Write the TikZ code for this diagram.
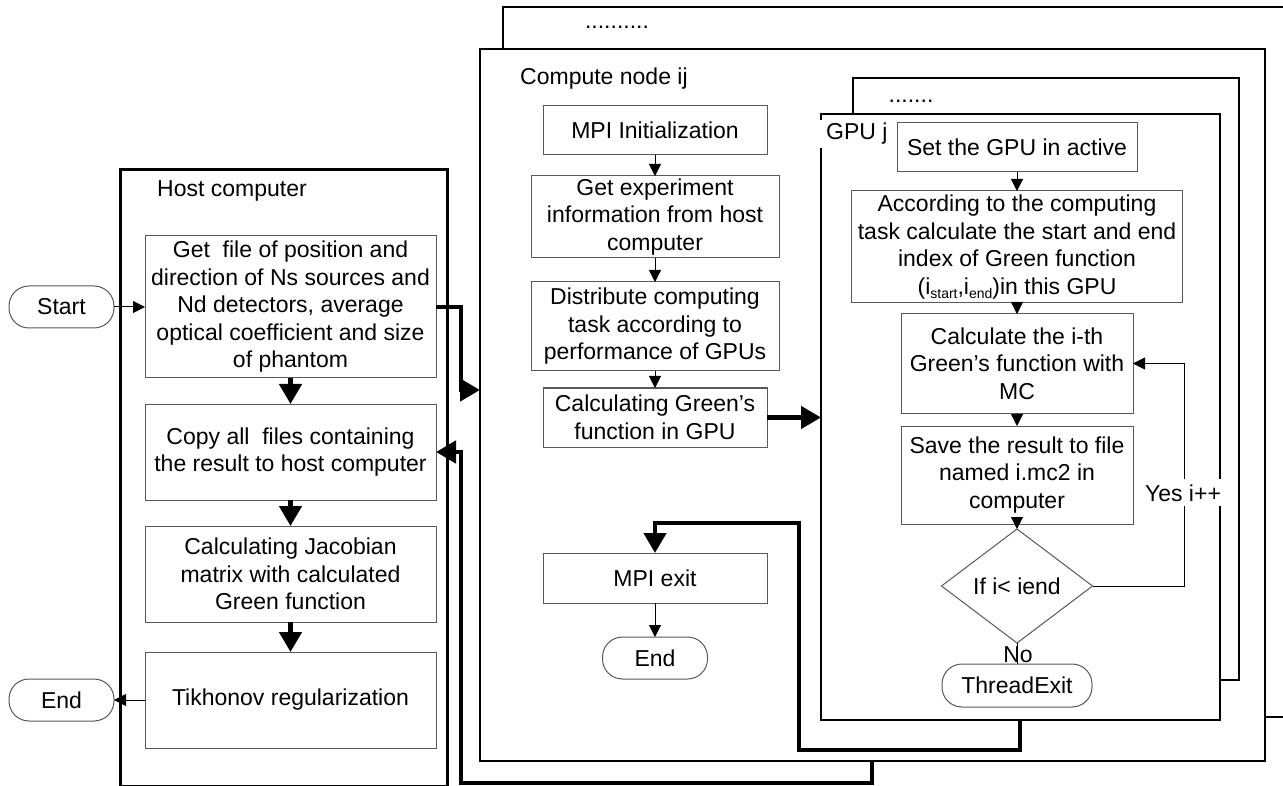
\documentclass[tikz,border=0pt]{standalone}
\usepackage{fontspec}
\setmainfont{Liberation Sans}
\usetikzlibrary{arrows.meta,shapes.geometric,calc}
\newcommand\fs{\fontsize{23}{27.5}\selectfont}
\newcommand\mysub[1]{\raisebox{-4pt}{\fontsize{14}{14}\selectfont #1}}
\begin{document}
\begin{tikzpicture}[x=1pt,y=-1pt,
  box/.style={draw=black!65, line width=1pt, align=center, inner sep=0pt, outer sep=0pt, font=\fs, fill=white},
  term/.style={box, rounded corners=20pt},
  frame/.style={draw=black, line width=2.5pt, fill=white, inner sep=0pt, outer sep=0pt},
  lbl/.style={font=\fs, inner sep=0pt},
  thinarr/.style={draw=black, line width=1pt, -{Triangle[length=12pt,width=12pt]}},
  bigarr/.style={draw=black, line width=4.5pt, -{Triangle[length=20pt,width=22pt]}, line join=miter},
]
\useasboundingbox (0,0) rectangle (1283,786);
\clip (0,0) rectangle (1283,786);
\fill[white] (0,0) rectangle (1283,786);

% frames
\node[frame, minimum width=785pt, minimum height=710pt] (cb) at (895.5,362) {};
\node[frame, minimum width=785pt, minimum height=712pt] (cn) at (872.5,405) {};
\node[frame, minimum width=386pt, minimum height=602pt] (gb) at (1046,379) {};
\node[frame, minimum width=399pt, minimum height=606pt] (gf) at (1020.5,417) {};
\node[frame, line width=3pt, minimum width=327pt, minimum height=616pt] (hf) at (283.5,478) {};

% labels
\node[lbl, anchor=base west] (hl) at (157,197) {Host computer};
\node[lbl, anchor=base west] (cl) at (520,85) {Compute node ij};
\node[lbl, anchor=base] (cd) at (617,29) {..........};
\node[lbl, anchor=base] (gd) at (911,103) {.......};
\node[lbl, anchor=base west, fill=white, inner xsep=7pt, inner ysep=3pt] (gl) at (819,140) {GPU j};

% host column
\node[term, minimum width=105pt, minimum height=42pt] (st) at (61.5,307) {Start};
\node[term, minimum width=105pt, minimum height=42pt] (he) at (61.5,700) {End};
\node[box, minimum width=291pt, minimum height=142pt] (b1) at (290.5,307) {Get~ file of position and\\direction of Ns sources and\\Nd detectors, average\\optical coefficient and size\\of phantom};
\node[box, minimum width=291pt, minimum height=96pt] (b2) at (290.5,452) {Copy all~ files containing\\the result to host computer};
\node[box, minimum width=291pt, minimum height=96pt] (b3) at (290.5,574) {Calculating Jacobian\\matrix with calculated\\Green function};
\node[box, minimum width=291pt, minimum height=96pt] (b4) at (290.5,700) {Tikhonov regularization};

% compute column
\node[box, minimum width=224pt, minimum height=49pt] (mi) at (655,130.5) {MPI Initialization};
\node[box, minimum width=248pt, minimum height=82pt] (ge) at (655,217) {Get experiment\\information from host\\computer};
\node[box, minimum width=248pt, minimum height=89pt] (dc) at (655,326.5) {Distribute computing\\task according to\\performance of GPUs};
\node[box, minimum width=224pt, minimum height=59pt] (cg) at (655,417.5) {Calculating Green’s\\function in GPU};
\node[box, minimum width=224pt, minimum height=50pt] (mx) at (655,578) {MPI exit};
\node[term, minimum width=105pt, minimum height=42pt] (ce) at (655,658) {End};

% GPU column
\node[box, minimum width=240pt, minimum height=49pt] (sa) at (1017,147.5) {Set the GPU in active};
\node[box, minimum width=331pt, minimum height=112pt] (ac) at (1017,247) {According to the computing\\task calculate the start and end\\index of Green function\\(i\mysub{start},i\mysub{end})in this GPU};
\node[box, minimum width=232pt, minimum height=99pt] (ci) at (1017,363.5) {Calculate the i-th\\Green’s function with\\MC};
\node[box, minimum width=232pt, minimum height=98pt] (sv) at (1017,475) {Save the result to file\\named i.mc2 in\\computer};
\node[box, diamond, aspect=1.32, minimum width=151pt, minimum height=114pt] (dm) at (1017,586) {If i< iend};
\node[term, minimum width=150pt, minimum height=43pt] (te) at (1017,685.5) {ThreadExit};
\node[lbl, anchor=base] (nl) at (1018,662) {No};

% bend points
\coordinate (p1) at (461,307);
\coordinate (p2) at (461,390);
\coordinate (r1) at (872,783);
\coordinate (r2) at (461,452);
\coordinate (g1) at (1020,750);
\coordinate (g2) at (799,523);
\coordinate (l1) at (1184,586);

% host connectors
\draw[thinarr] (st.east) -- (b1.west);
\draw[thinarr] (b4.west) -- (he.east);
\draw[bigarr] (b1) -- (b2);
\draw[bigarr] (b2) -- (b3);
\draw[bigarr] (b3) -- (b4);

% compute connectors
\draw[thinarr] (mi) -- (ge);
\draw[thinarr] (ge) -- (dc);
\draw[thinarr] (dc) -- (cg);
\draw[thinarr] (mx) -- (ce);

% GPU connectors
\draw[thinarr] (sa) -- (ac);
\draw[thinarr] (ac) -- (ci);
\draw[thinarr] (ci) -- (sv);
\draw[thinarr] (sv.south) -- (dm.north);
\draw[thinarr] (dm.east) -- (l1) |- (ci.east);
\draw[line width=1pt] (dm.south) -- (te.north);

% thick links between frames
\draw[bigarr] (b1.east) -- (p1) -- (p2) -- (p2 -| cn.west);
\draw[bigarr] (r1 |- cn.south) -- (r1) -| (r2) -- (b2.east);
\draw[bigarr] (cg.east) -- (cg.east -| gf.west);
\draw[bigarr] (g1 |- gf.south) -- (g1) -| (g2) -| (mx.north);

\node[lbl, anchor=base, fill=white, inner xsep=2pt, inner ysep=5pt] (yl) at (1183,501) {Yes i++};
\end{tikzpicture}
\end{document}
